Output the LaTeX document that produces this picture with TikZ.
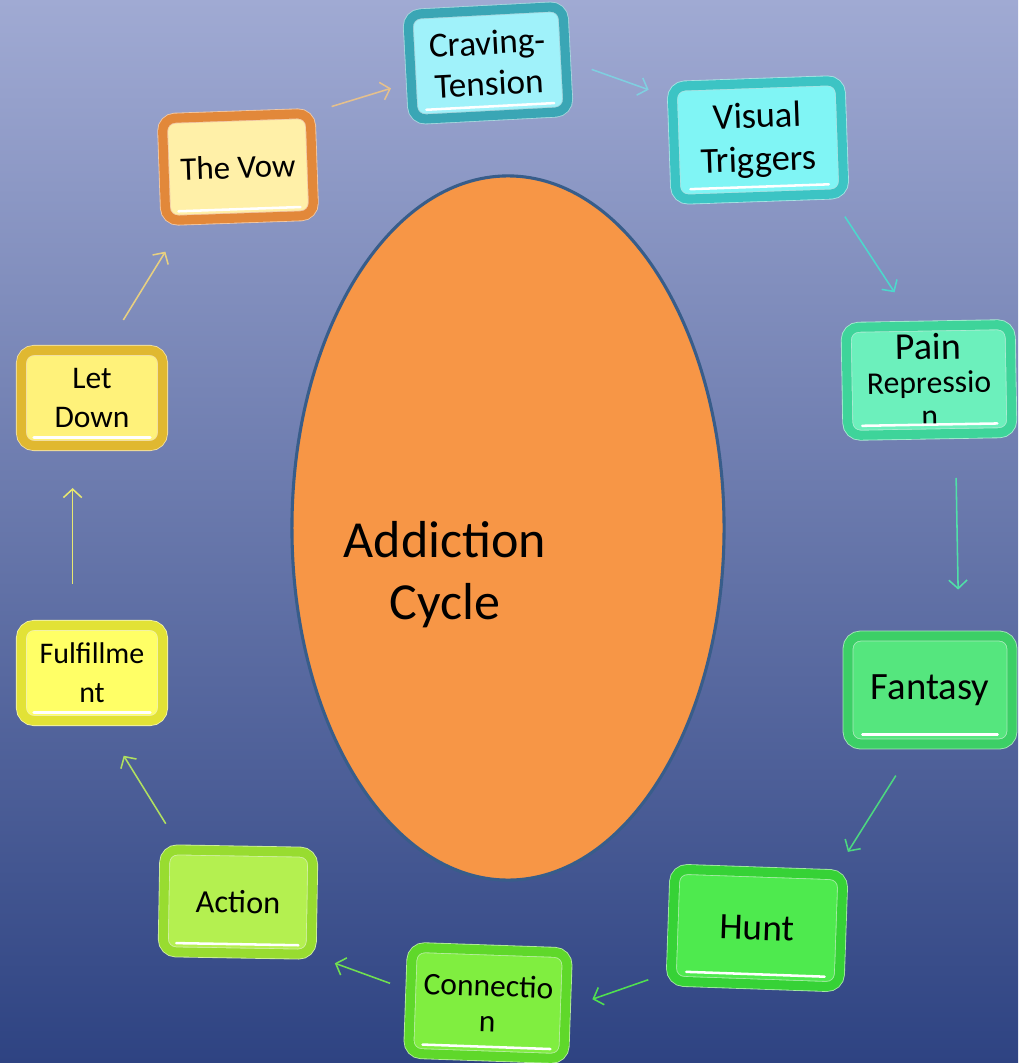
\documentclass[tikz,border=0pt]{standalone}
\usepackage{fontspec}
\setmainfont{Carlito}
\usetikzlibrary{shadows,calc,arrows.meta}

\definecolor{bgTop}{RGB}{160,170,211}
\definecolor{bgMid}{RGB}{104,121,176}
\definecolor{bgBot}{RGB}{46,67,130}
\definecolor{coreFill}{RGB}{247,150,70}
\definecolor{coreLine}{RGB}{56,93,138}

\definecolor{vowRim}{RGB}{226,136,58}     \definecolor{vowFace}{RGB}{255,240,168}
\definecolor{craveRim}{RGB}{58,166,181}   \definecolor{craveFace}{RGB}{160,242,250}
\definecolor{visualRim}{RGB}{60,196,196}  \definecolor{visualFace}{RGB}{128,245,245}
\definecolor{painRim}{RGB}{62,212,154}    \definecolor{painFace}{RGB}{108,240,188}
\definecolor{fantasyRim}{RGB}{60,207,102} \definecolor{fantasyFace}{RGB}{85,230,126}
\definecolor{huntRim}{RGB}{54,210,54}     \definecolor{huntFace}{RGB}{78,234,78}
\definecolor{connRim}{RGB}{95,216,42}     \definecolor{connFace}{RGB}{128,238,64}
\definecolor{actionRim}{RGB}{152,220,48}  \definecolor{actionFace}{RGB}{180,240,80}
\definecolor{fulfilRim}{RGB}{226,226,54}  \definecolor{fulfilFace}{RGB}{255,255,102}
\definecolor{letdownRim}{RGB}{224,184,48} \definecolor{letdownFace}{RGB}{255,242,122}

\definecolor{arrVow}{RGB}{229,192,140}
\definecolor{arrCrave}{RGB}{127,207,224}
\definecolor{arrVisual}{RGB}{76,216,204}
\definecolor{arrPain}{RGB}{80,224,168}
\definecolor{arrFantasy}{RGB}{76,216,128}
\definecolor{arrHunt}{RGB}{80,224,80}
\definecolor{arrConn}{RGB}{112,224,80}
\definecolor{arrAction}{RGB}{176,224,96}
\definecolor{arrFulfil}{RGB}{232,232,112}
\definecolor{arrLetdown}{RGB}{232,208,128}

\begin{document}
\begin{tikzpicture}[x=0.025cm, y=-0.025cm,
    box/.style 2 args={rectangle, rounded corners=9pt, draw=#1!45!white, line width=0.6pt,
        double=#1, double distance=6.5pt, fill=#2, align=center, inner sep=2pt,
        drop shadow={opacity=0.4, shadow xshift=2.5pt, shadow yshift=-3pt}, shine},
    shine/.style={append after command={
        ($(\tikzlastnode.south west)!0.09!(\tikzlastnode.north east)$)
        edge[draw=white, line width=1.8pt, line cap=round, -]
        ($(\tikzlastnode.south east)!0.09!(\tikzlastnode.north west)$)}},
    big/.style={font=\fontsize{26}{31}\selectfont}]
\useasboundingbox (0,0) rectangle (1018,1063);
\shade[top color=bgTop, middle color=bgMid, bottom color=bgBot] (0,0) rectangle (1018,1063);

% centre of the cycle
\draw[fill=coreFill, draw=coreLine, line width=2.2pt] (508,528) ellipse [x radius=5.4cm, y radius=8.8cm];
\node[font=\fontsize{37}{44}\selectfont, align=center] (title) at (445,575) {Addiction\\Cycle};

% stages
\begin{scope}[every node/.style={minimum width=3.7cm, minimum height=2.55cm}]
    \node[box={vowRim}{vowFace}, rotate=2, font=\fontsize{23.4}{28}\selectfont] (vow) at (238,167) {The Vow};
    \node[box={craveRim}{craveFace}, minimum width=3.88cm, minimum height=2.63cm, rotate=3, font=\fontsize{25}{29}\selectfont] (crave) at (488,63) {Craving-\\Tension};
    \node[box={visualRim}{visualFace}, minimum width=4.2cm, minimum height=2.83cm, rotate=2, big] (visual) at (758,140) {Visual\\Triggers};
    \node[box={painRim}{painFace}, minimum width=4.1cm, minimum height=2.7cm, rotate=1, font=\fontsize{22.5}{24}\selectfont] (pain) at (929,380) {{\fontsize{27}{28}\selectfont Pain}\\Repressio\\n};
    \node[box={fantasyRim}{fantasyFace}, minimum width=4.1cm, minimum height=2.7cm, font=\fontsize{27.5}{32}\selectfont] (fantasy) at (930,690) {Fantasy};
    \node[box={huntRim}{huntFace}, minimum width=4.2cm, minimum height=2.8cm, rotate=-2, font=\fontsize{26.5}{31}\selectfont] (hunt) at (757,928) {Hunt};
    \node[box={connRim}{connFace}, minimum width=3.88cm, minimum height=2.65cm, rotate=-2, font=\fontsize{22.4}{25}\selectfont] (conn) at (488,1003) {Connectio\\n};
    \node[box={actionRim}{actionFace}, rotate=-1, font=\fontsize{23}{28}\selectfont] (action) at (238,902) {Action};
    \node[box={fulfilRim}{fulfilFace}, minimum width=3.53cm, minimum height=2.38cm, font=\fontsize{21.3}{28}\selectfont] (fulfil) at (92,673) {Fulfillme\\nt};
    \node[box={letdownRim}{letdownFace}, minimum width=3.53cm, minimum height=2.38cm, font=\fontsize{22.4}{28}\selectfont] (letdown) at (92,398) {Let\\Down};
\end{scope}

% arrows round the cycle
\begin{scope}[every edge/.style={draw, line width=1.1pt, line join=round, -{Straight Barb[length=6pt,width=13pt]}}]
    \path (vow.north east) edge[draw=arrVow, shorten <=0.55cm, shorten >=0.52cm] (crave.191);
    \path (crave.-1) edge[draw=arrCrave, shorten <=0.68cm, shorten >=0.62cm] (visual.152);
    \path (visual.-39) edge[draw=arrVisual, shorten <=0.66cm, shorten >=1cm] (pain.102);
    \path (pain.-65) edge[draw=arrPain, shorten <=1.1cm, shorten >=1.15cm] (fantasy.62);
    \path (fantasy.-105) edge[draw=arrFantasy, shorten <=0.92cm, shorten >=0.66cm] (hunt.37);
    \path (hunt.209) edge[draw=arrHunt, shorten <=0.6cm, shorten >=0.7cm] (conn.-2);
    \path (conn.173) edge[draw=arrConn, shorten <=0.54cm, shorten >=0.62cm] (action.south east);
    \path (action.138) edge[draw=arrAction, shorten <=0.76cm, shorten >=1.02cm] (fulfil.-78);
    \path (fulfil.112) edge[draw=arrFulfil, shorten <=1.02cm, shorten >=1.05cm] (letdown.248);
    \path (letdown.75) edge[draw=arrLetdown, shorten <=0.88cm, shorten >=0.92cm] (vow.-137);
\end{scope}
\end{tikzpicture}
\end{document}
